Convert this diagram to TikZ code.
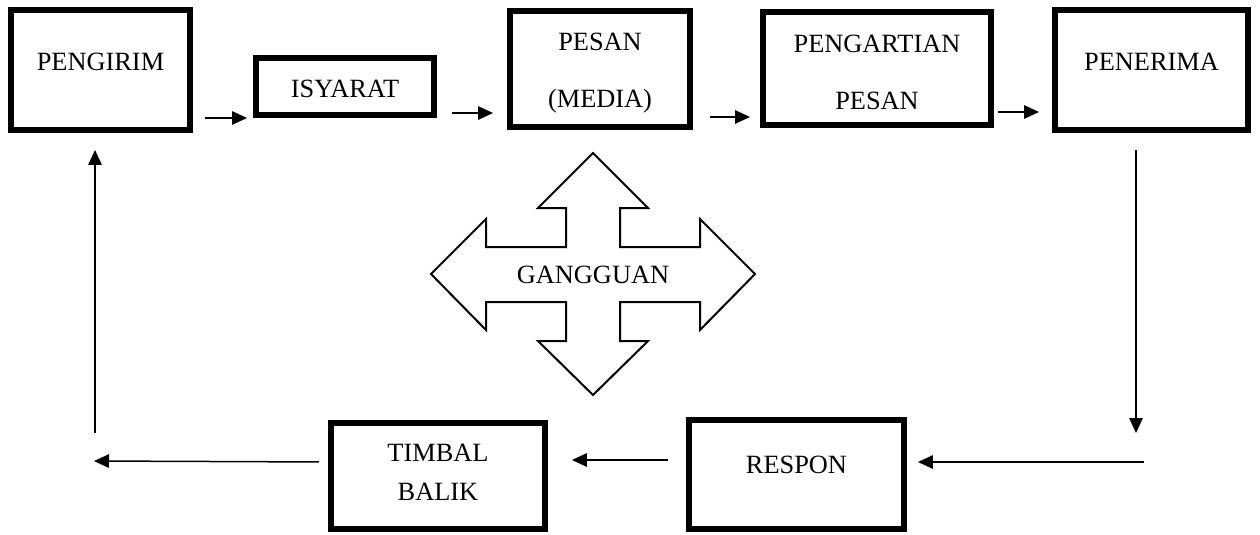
\documentclass[tikz,border=0pt]{standalone}
\usepackage{fontspec}
\setmainfont{Liberation Serif}
\usetikzlibrary{arrows.meta}
\tikzset{
  box/.style={draw,line width=0.12cm,inner sep=0pt},
  txt/.style={font=\fontsize{15}{32.4}\selectfont,align=center,inner sep=0pt},
  txtlow/.style={font=\fontsize{15}{22.2}\selectfont,align=center,inner sep=0pt},
}
\begin{document}
\begin{tikzpicture}[x=0.02cm,y=-0.02cm,>={Triangle[length=0.3cm,width=0.27cm]},line width=0.03cm]
\useasboundingbox (0,0) rectangle (1260,534);
% top row
\node[box,minimum width=3.58cm,minimum height=2.40cm,label={[txt,yshift=0.16cm]center:PENGIRIM}] (pengirim) at (100.5,70) {};
\node[box,minimum width=3.56cm,minimum height=1.14cm,label={[txt,yshift=-0.05cm]center:ISYARAT}] (isyarat) at (345,86.5) {};
\node[box,minimum width=3.60cm,minimum height=2.32cm,label={[txt,yshift=-0.09cm]center:PESAN\\(MEDIA)}] (pesan) at (600,69) {};
\node[box,minimum width=4.56cm,minimum height=2.26cm,label={[txt,yshift=-0.08cm]center:PENGARTIAN\\PESAN}] (pengartian) at (877,68.5) {};
\node[box,minimum width=3.86cm,minimum height=2.40cm,label={[txt,yshift=0.16cm]center:PENERIMA}] (penerima) at (1151.5,70) {};
% bottom row
\node[box,minimum width=4.30cm,minimum height=2.18cm,label={[txtlow,yshift=0.19cm]center:RESPON}] (respon) at (796.5,474.5) {};
\node[box,minimum width=4.28cm,minimum height=2.12cm,label={[txtlow,yshift=0.07cm]center:TIMBAL\\BALIK}] (timbal) at (438,476) {};
% free ends of the loop
\coordinate (downend) at (1136,433);
\coordinate (rightstart) at (1144,462);
\coordinate (leftend) at (94,461);
\coordinate (upstart) at (95,433);
% connectors
\draw[->,shorten <=0.24cm,shorten >=0.12cm] (pengirim.east |- 0,118) -- (isyarat.west |- 0,118);
\draw[->,shorten <=0.30cm,shorten >=0.28cm] (isyarat.east |- 0,113) -- (pesan.west |- 0,113);
\draw[->,shorten <=0.34cm,shorten >=0.20cm] (pesan.east |- 0,117) -- (pengartian.west |- 0,117);
\draw[->,shorten <=0.08cm,shorten >=0.26cm] (pengartian.east |- 0,112) -- (penerima.west |- 0,112);
\draw[->,shorten <=0.34cm] (downend |- penerima.south) -- (downend);
\draw[->,shorten >=0.22cm] (rightstart) -- (respon.east |- rightstart);
\draw[->,shorten <=0.36cm,shorten >=0.48cm] (respon.west |- 0,460) -- (timbal.east |- 0,460);
\draw[->,shorten <=0.18cm] (timbal.west |- 0,462) -- (leftend);
\draw[->,shorten >=0.34cm] (upstart) -- (upstart |- pengirim.south);
% noise cross
\draw[line width=0.04cm,line join=miter] (593,153) -- (648,208) -- (620,208) -- (620,247) -- (700,247) -- (700,219)
  -- (755,274) -- (700,330) -- (700,302) -- (620,302) -- (620,341) -- (648,341) -- (593,395)
  -- (538,341) -- (566,341) -- (566,302) -- (486,302) -- (486,330) -- (431,274) -- (486,219)
  -- (486,247) -- (566,247) -- (566,208) -- (538,208) -- cycle;
\node[txt] (gangguan) at (593,275) {GANGGUAN};
\end{tikzpicture}
\end{document}
